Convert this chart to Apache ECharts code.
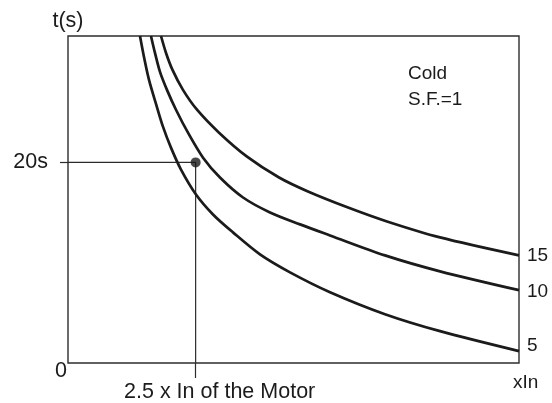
<!DOCTYPE html>
<html>
<head>
<meta charset="utf-8">
<script src="https://cdn.jsdelivr.net/npm/echarts@6/dist/echarts.min.js"></script>
<style>
  html, body { margin: 0; padding: 0; background: #ffffff; }
  #chart { width: 552px; height: 403px; }
</style>
</head>
<body>
<div id="chart"></div>
<script>
// Cold-start trip curves: tripping time (s) against current in multiples of In
const curveNames = ['15', '10', '5'];
const class15 = [[2.093, 32.6], [2.152, 30.91], [2.228, 29.22], [2.351, 27.23], [2.516, 25.25], [2.775, 22.96],
  [3.104, 20.57], [3.480, 18.49], [3.820, 17.10], [4.291, 15.50], [4.749, 14.11], [5.372, 12.52], [6.300, 10.73]];
const class10 = [[1.975, 32.6], [2.022, 30.91], [2.081, 29.02], [2.163, 27.23], [2.269, 25.25], [2.410, 22.96],
  [2.587, 20.47], [2.786, 18.49], [3.057, 16.50], [3.374, 15.01], [3.727, 13.82], [4.079, 12.72],
  [4.725, 10.73], [5.372, 9.14], [6.300, 7.26]];
const class5 = [[1.846, 32.6], [1.893, 30.51], [1.952, 28.23], [2.034, 25.84], [2.116, 23.56], [2.210, 21.47],
  [2.328, 19.28], [2.504, 16.80], [2.704, 14.81], [2.939, 13.02], [3.256, 10.83], [3.609, 9.04],
  [4.079, 7.06], [4.725, 4.87], [5.372, 3.18], [6.300, 1.19]];

// Operating point: 2.5 x In for 20 s
const pointCurrent = 2.5;
const pointTime = 20;
const yTicks = [0, 20];
const yTickLabels = ['0', '20s'];
const xLabel = '2.5 x In of the Motor';
const xName = 'xIn';
const yName = 't(s)';
const noteText = ['Cold', 'S.F.=1'];

const FONT = "'Liberation Sans', Arial, sans-serif";
const INK = '#1c1a1a';
const FRAME = '#2e2b2b';
const AXIS_FS = 21.5;
const NOTE_FS = 19;

const chart = echarts.init(document.getElementById('chart'), null, { renderer: 'canvas' });

function curveSeries(name, data, dy) {
  return {
    name: name,
    type: 'line',
    data: data,
    smooth: 0.3,
    showSymbol: false,
    silent: true,
    lineStyle: { color: INK, width: 2.7 },
    endLabel: {
      show: true,
      formatter: '{a}',
      distance: 8,
      offset: [0, dy],
      color: INK,
      fontFamily: FONT,
      fontSize: NOTE_FS
    },
    z: 3
  };
}

chart.setOption({
  animation: false,
  backgroundColor: '#ffffff',
  grid: {
    left: 68, top: 36, right: 33, bottom: 39,
    show: true, borderColor: FRAME, borderWidth: 1.4, backgroundColor: 'transparent'
  },
  xAxis: {
    type: 'value',
    min: 1, max: 6.3,
    splitLine: { show: false },
    axisLine: { show: false },
    axisTick: { show: true, customValues: [pointCurrent], length: 15, lineStyle: { color: FRAME, width: 1.2 } },
    axisLabel: {
      show: true,
      customValues: [pointCurrent],
      formatter: () => xLabel,
      margin: 18,
      color: INK, fontFamily: FONT, fontSize: AXIS_FS,
      padding: [0, 0, 0, 48]
    },
    name: xName,
    nameLocation: 'end',
    nameGap: -6,
    nameTextStyle: {
      color: INK, fontFamily: FONT, fontSize: NOTE_FS,
      align: 'left', verticalAlign: 'top', padding: [10, 0, 0, 0]
    }
  },
  yAxis: {
    type: 'value',
    min: 0, max: 32.6,
    splitLine: { show: false },
    axisLine: { show: false },
    axisTick: { show: true, customValues: [pointTime], length: 8, lineStyle: { color: FRAME, width: 1.2 } },
    axisLabel: {
      show: true,
      customValues: yTicks,
      margin: 1,
      formatter: v => {
        const i = yTicks.indexOf(v);
        const t = i >= 0 ? yTickLabels[i] : '';
        return v === 0 ? '{zero|' + t + '}' : '{std|' + t + '}';
      },
      rich: {
        zero: { color: INK, fontFamily: FONT, fontSize: AXIS_FS, padding: [16, 0, 0, 0] },
        std: { color: INK, fontFamily: FONT, fontSize: AXIS_FS, padding: [0, 19, 0, 0] }
      }
    },
    name: yName,
    nameLocation: 'end',
    nameGap: 4,
    nameTextStyle: { color: INK, fontFamily: FONT, fontSize: AXIS_FS, align: 'center' }
  },
  graphic: [{
    type: 'text',
    left: 408, top: 61,
    style: {
      text: noteText.join('\n'),
      fill: INK, font: NOTE_FS + 'px ' + FONT, lineHeight: 26
    }
  }],
  series: [
    curveSeries(curveNames[0], class15, 0),
    curveSeries(curveNames[1], class10, 2),
    curveSeries(curveNames[2], class5, -5),
    {
      // Guide lines to the operating point
      type: 'line',
      data: [[1, pointTime], [pointCurrent, pointTime], [pointCurrent, 0]],
      showSymbol: false,
      silent: true,
      lineStyle: { color: FRAME, width: 1.2 },
      z: 2
    },
    {
      type: 'scatter',
      data: [[pointCurrent, pointTime]],
      symbolSize: 10,
      itemStyle: { color: INK },
      silent: true,
      z: 4
    }
  ]
});
</script>
</body>
</html>
